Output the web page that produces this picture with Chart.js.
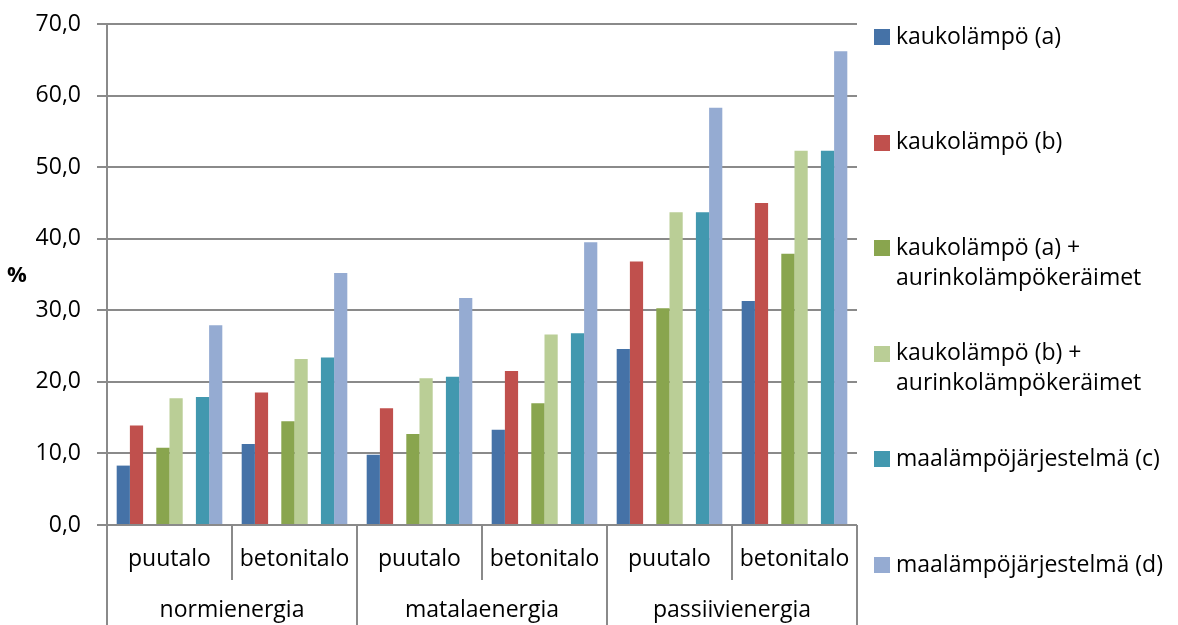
<!DOCTYPE html>
<html lang="fi">
<head>
<meta charset="utf-8">
<title>Energiatehokkuus talotyypeittäin</title>
<script src="https://cdn.jsdelivr.net/npm/chart.js@4.4.1/dist/chart.umd.min.js"></script>
<style>
  html, body { margin: 0; padding: 0; background: #ffffff; }
  #wrap { position: relative; width: 1178px; height: 625px; }
</style>
</head>
<body>
<div id="wrap"><canvas id="chart" width="1178" height="625"></canvas></div>
<script>
// Talotyypit (sisempi taso) ja energialuokat (ulompi taso)
const houseTypes = ['puutalo', 'betonitalo', 'puutalo', 'betonitalo', 'puutalo', 'betonitalo'];
const energyClasses = ['normienergia', 'matalaenergia', 'passiivienergia'];

// Arvot prosentteina
const kaukoA      = [8.3, 11.3, 9.8, 13.3, 24.6, 31.3];
const kaukoB      = [13.9, 18.5, 16.3, 21.5, 36.8, 45.0];
const kaukoAAurinko = [10.8, 14.5, 12.7, 17.0, 30.3, 37.9];
const kaukoBAurinko = [17.7, 23.2, 20.5, 26.6, 43.7, 52.3];
const maaC        = [17.9, 23.4, 20.7, 26.8, 43.7, 52.3];
const maaD        = [27.9, 35.2, 31.7, 39.5, 58.3, 66.2];

const yTicks = [0, 10, 20, 30, 40, 50, 60, 70];

const seriesLabels = [
  ['kaukolämpö (a)'],
  ['kaukolämpö (b)'],
  ['kaukolämpö (a) +', 'aurinkolämpökeräimet'],
  ['kaukolämpö (b) +', 'aurinkolämpökeräimet'],
  ['maalämpöjärjestelmä (c)'],
  ['maalämpöjärjestelmä (d)']
];
const seriesColors = ['#4572A7', '#C0504D', '#89A54E', '#BACE96', '#4298AF', '#95ABD2'];

const FONT = '"Open Sans", "Liberation Sans", sans-serif';
const AXIS_GRAY = '#8a8a8a';

function bar(i, data) {
  return {
    label: seriesLabels[i].join(' '),
    data: data,
    backgroundColor: seriesColors[i],
    borderWidth: 0
  };
}
// Empty slot between the pairs of bars
function gap() {
  return { label: '', data: [], backgroundColor: 'rgba(0,0,0,0)' };
}

const datasets = [
  bar(0, kaukoA), bar(1, kaukoB), gap(),
  bar(2, kaukoAAurinko), bar(3, kaukoBAurinko), gap(),
  bar(4, maaC), bar(5, maaD)
];

// Two-level category axis, legend and axis title
const decorations = {
  id: 'decorations',
  afterDraw(chart) {
    const ctx = chart.ctx;
    const area = chart.chartArea;
    const x = chart.scales.x;
    const n = houseTypes.length;
    const px = i => x.getPixelForValue(i);
    const bound = i => (i === 0 ? area.left : i === n ? area.right : (px(i - 1) + px(i)) / 2);

    ctx.save();
    ctx.strokeStyle = AXIS_GRAY;
    ctx.lineWidth = 2;
    // category boundaries
    for (let i = 0; i <= n; i++) {
      const bx = Math.round(bound(i));
      const bottom = (i % 2 === 0) ? 625 : 580;
      ctx.beginPath();
      ctx.moveTo(bx, area.bottom);
      ctx.lineTo(bx, bottom);
      ctx.stroke();
    }
    // labels
    ctx.fillStyle = '#000000';
    ctx.font = '23px ' + FONT;
    ctx.textAlign = 'center';
    ctx.textBaseline = 'middle';
    for (let i = 0; i < n; i++) {
      ctx.fillText(houseTypes[i], px(i), 559);
    }
    for (let k = 0; k < energyClasses.length; k++) {
      const cx = (bound(2 * k) + bound(2 * k + 2)) / 2;
      ctx.fillText(energyClasses[k], cx, 610);
    }

    // y-axis title
    ctx.font = 'bold 22px ' + FONT;
    ctx.fillText('%', 17, 276);

    // legend
    ctx.font = '23px ' + FONT;
    ctx.textAlign = 'left';
    for (let i = 0; i < seriesLabels.length; i++) {
      const cy = 37 + i * 105.6;
      ctx.fillStyle = seriesColors[i];
      ctx.fillRect(874, Math.round(cy - 8), 16, 16);
      ctx.fillStyle = '#000000';
      seriesLabels[i].forEach((line, j) => ctx.fillText(line, 896, cy + j * 30));
    }
    ctx.restore();
  }
};

new Chart(document.getElementById('chart'), {
  type: 'bar',
  data: { labels: houseTypes, datasets: datasets },
  plugins: [decorations],
  options: {
    responsive: false,
    animation: false,
    layout: { padding: { left: 0, right: 321, top: 24, bottom: 0 } },
    datasets: { bar: { categoryPercentage: 0.845, barPercentage: 1.0 } },
    plugins: { legend: { display: false }, tooltip: { enabled: false } },
    scales: {
      x: {
        ticks: { display: false },
        grid: { display: false },
        border: { display: false },
        afterFit(scale) { scale.height = 100; }
      },
      y: {
        min: 0,
        max: 70,
        afterBuildTicks(scale) { scale.ticks = yTicks.map(v => ({ value: v })); },
        afterFit(scale) { scale.width = 107; scale.paddingTop = 0; },
        ticks: {
          padding: 16,
          color: '#000000',
          font: { family: FONT, size: 23, lineHeight: 1.0 },
          callback: v => v.toFixed(1).replace('.', ',')
        },
        grid: { color: AXIS_GRAY, lineWidth: 2, tickLength: 10, drawTicks: true },
        border: { display: true, color: AXIS_GRAY, width: 2 }
      }
    }
  }
});
</script>
</body>
</html>
